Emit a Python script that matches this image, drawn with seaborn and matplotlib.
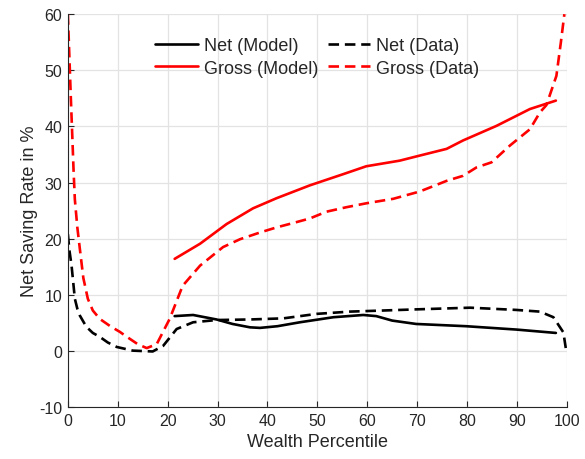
import matplotlib
matplotlib.use("Agg")
import matplotlib.pyplot as plt
import seaborn as sns
import pandas as pd

# Net saving rate by wealth percentile
net_model_x = [21.4, 25.1, 29.8, 33.0, 36.5, 38.5, 42.0, 46.5, 53.2, 59.2, 61.8, 65.0, 69.8, 79.8, 89.9, 97.8]
net_model_y = [6.2, 6.4, 5.6, 4.8, 4.2, 4.1, 4.4, 5.1, 6.0, 6.4, 6.2, 5.4, 4.8, 4.4, 3.8, 3.2]

net_data_x = [0, 0.3, 0.74, 1.1, 1.4, 1.9, 2.4, 3.7, 5.0, 6.4, 8.0, 9.8, 13.0, 17.0, 19.1, 21.8,
              25.1, 29.8, 36.5, 43.2, 49.9, 56.5, 63.3, 69.8, 80.6, 89.9, 94.6, 97.3, 99.3, 99.8]
net_data_y = [20.8, 18.0, 15.2, 12.0, 9.3, 7.5, 6.3, 4.3, 3.2, 2.5, 1.5, 0.7, 0.05, -0.1, 0.9, 3.9,
              5.1, 5.5, 5.6, 5.8, 6.6, 7.0, 7.2, 7.4, 7.7, 7.3, 7.0, 6.0, 3.3, 0.4]

gross_model_x = [21.4, 26.5, 31.8, 37.1, 41.8, 48.5, 55.2, 59.8, 66.5, 70.5, 75.9, 79.2, 85.9, 92.6, 97.8]
gross_model_y = [16.4, 19.1, 22.6, 25.4, 27.2, 29.5, 31.5, 32.9, 33.9, 34.8, 36.0, 37.5, 40.1, 43.1, 44.6]

gross_data_x = [0, 0.2, 0.4, 0.6, 0.9, 1.15, 1.4, 1.9, 2.4, 3.1, 4.0, 5.0, 6.4, 8.5, 10.4, 12.0,
                14.0, 15.8, 17.8, 20.4, 23.0, 26.5, 31.1, 34.5, 38.5, 41.8, 45.2, 48.5, 51.8,
                55.8, 59.8, 65.2, 70.5, 72.5, 75.9, 79.2, 81.9, 84.9, 88.6, 92.6, 94.6, 95.9,
                97.9, 98.8, 99.5]
gross_data_y = [60, 55, 50, 45, 38, 32, 27, 22, 18.2, 13.0, 9.3, 7.2, 5.7, 4.4, 3.4, 2.4,
                1.2, 0.5, 1.2, 5.7, 11.6, 15.2, 18.5, 19.9, 21.1, 22.0, 22.8, 23.6, 24.8,
                25.6, 26.3, 27.1, 28.4, 29.1, 30.3, 31.2, 32.7, 33.6, 36.6, 39.5, 42.5, 43.8,
                49.0, 55.0, 60.0]

x_ticks = [0, 10, 20, 30, 40, 50, 60, 70, 80, 90, 100]
y_ticks = [-10, 0, 10, 20, 30, 40, 50, 60]

sns.set_style("white")
plt.rcParams["font.family"] = ["Liberation Sans", "DejaVu Sans"]
plt.rcParams["axes.unicode_minus"] = False

fig = plt.figure(figsize=(5.85, 4.6), dpi=100)
ax = fig.add_axes([0.116, 0.113, 0.853, 0.854])

dash = (4, 2.2)
series = [
    ("Net (Model)", net_model_x, net_model_y, "black", None),
    ("Gross (Model)", gross_model_x, gross_model_y, "red", None),
    ("Net (Data)", net_data_x, net_data_y, "black", dash),
    ("Gross (Data)", gross_data_x, gross_data_y, "red", dash),
]
for name, xs, ys, color, dashes in series:
    df = pd.DataFrame({"x": xs, "y": ys})
    sns.lineplot(data=df, x="x", y="y", ax=ax, color=color, linewidth=1.9,
                 label=name, sort=False, estimator=None)
    if dashes is not None:
        ax.lines[-1].set_dashes(dashes)

ax.set_xlim(0, 100)
ax.set_ylim(-10, 60)
ax.set_xticks(x_ticks)
ax.set_yticks(y_ticks)
ax.grid(True, color="#e3e3e3", linewidth=0.9)
ax.set_axisbelow(True)
for s in ["top", "right"]:
    ax.spines[s].set_visible(False)
for s in ["left", "bottom"]:
    ax.spines[s].set_color("#262626")
    ax.spines[s].set_linewidth(0.8)
ax.tick_params(direction="in", length=4, width=0.8, colors="#262626",
               labelsize=11.5, left=True, bottom=True, pad=4)
ax.set_xlabel("Wealth Percentile", fontsize=13, color="#262626", labelpad=4)
ax.set_ylabel("Net Saving Rate in %", fontsize=13, color="#262626", labelpad=1)

handles, labels = ax.get_legend_handles_labels()
ax.legend(handles, labels, ncol=2, loc="upper center", bbox_to_anchor=(0.5, 0.983),
          frameon=False, fontsize=13, handlelength=2.35, handletextpad=0.33,
          columnspacing=0.55, labelspacing=0.3)

fig.savefig("out.png", dpi=100)
